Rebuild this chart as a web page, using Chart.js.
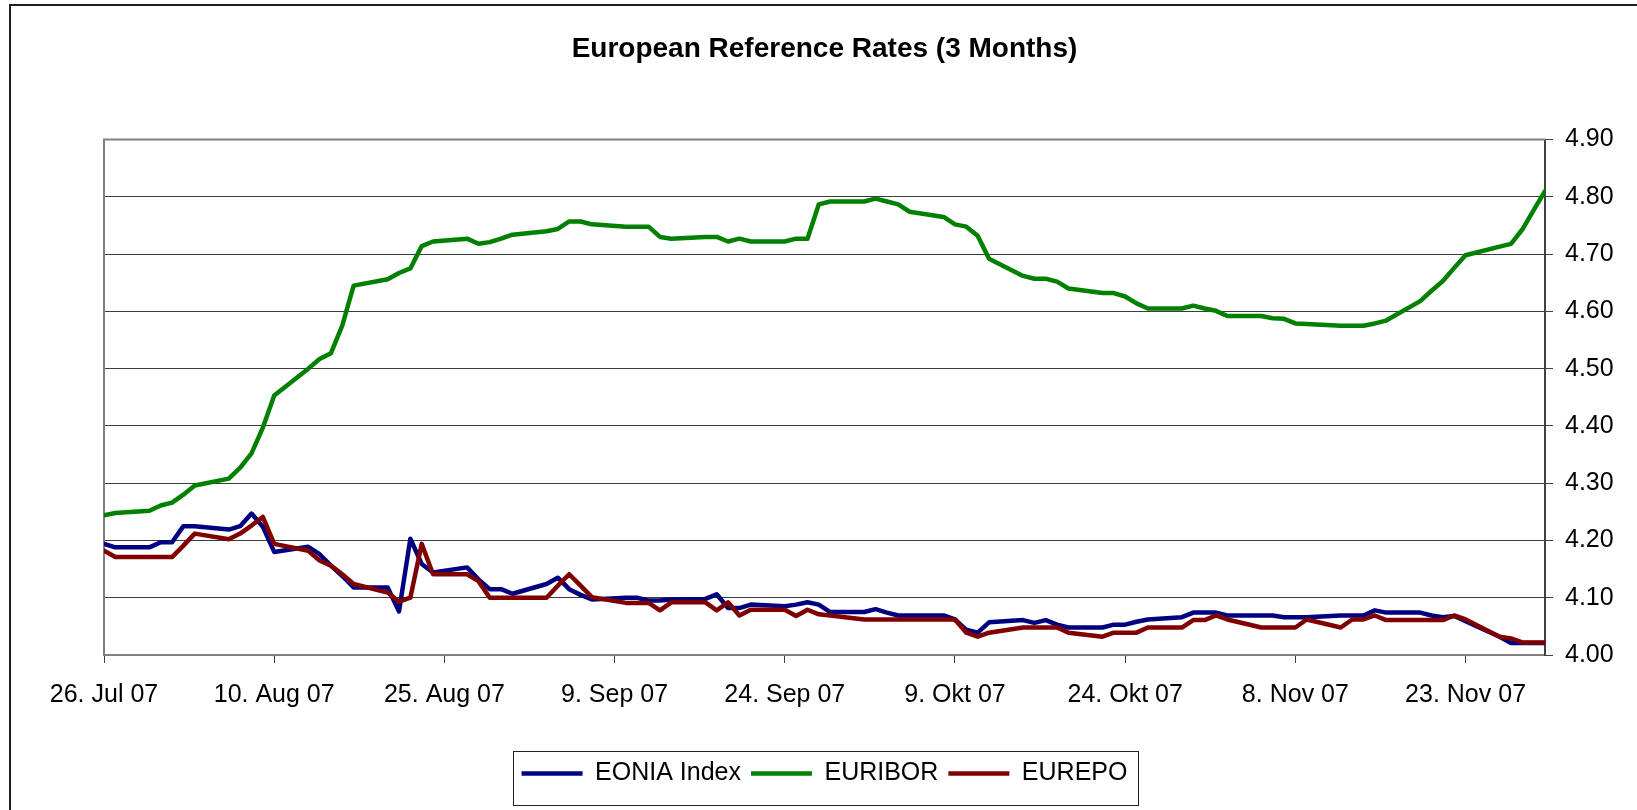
<!DOCTYPE html>
<html>
<head>
<meta charset="utf-8">
<title>European Reference Rates (3 Months)</title>
<script src="https://cdn.jsdelivr.net/npm/chart.js@4.4.1/dist/chart.umd.min.js"></script>
<style>
  html, body { margin: 0; padding: 0; background: #fff; }
  #contenedor { width: 1637px; height: 810px; position: relative; }
</style>
</head>
<body>
<div id="contenedor"><canvas id="plot1"></canvas></div>
<script>
// dias habiles, contados desde el 26. Jul 07
let dias = [0,1, 4,5,6,7,8, 11,12,13,14,15, 18,19,20,21,22, 25,26,27,28,29, 32,33,34,35,36,
            39,40,41,42,43, 46,47,48,49,50, 53,54,55,56,57, 60,61,62,63,64, 67,68,69,70,71,
            74,75,76,77,78, 81,82,83,84,85, 88,89,90,91,92, 95,96,97,98,99, 102,103,104,105,106,
            109,110,111,112,113, 116,117,118,119,120, 123,124,125,126,127];

let eonia = [4.194,4.188, 4.188,4.197,4.197,4.225,4.225, 4.219,4.225,4.247,4.224,4.180,
             4.189,4.176,4.156,4.138,4.118, 4.118,4.076,4.203,4.159,4.144, 4.153,4.132,4.115,4.115,4.107,
             4.124,4.135,4.115,4.105,4.097, 4.100,4.100,4.095,4.095,4.097, 4.098,4.106,4.082,4.082,4.088,
             4.085,4.088,4.092,4.088,4.075, 4.075,4.080,4.074,4.069,4.069, 4.069,4.062,4.044,4.039,4.057,
             4.061,4.056,4.061,4.053,4.048, 4.048,4.053,4.053,4.058,4.062, 4.066,4.074,4.074,4.074,4.069,
             4.069,4.069,4.066,4.066,4.066, 4.069,4.069,4.069,4.078,4.074, 4.074,4.069,4.066,4.068,4.059,
             4.032,4.021,4.021,4.021,4.021];

let euribor = [4.244,4.248, 4.252,4.261,4.266,4.280,4.296, 4.308,4.327,4.352,4.397,4.453,
               4.500,4.517,4.527,4.575,4.645, 4.656,4.667,4.675,4.714,4.722, 4.727,4.718,4.721,4.727,4.734,
               4.740,4.744,4.757,4.757,4.752, 4.748,4.748,4.748,4.730,4.727, 4.730,4.730,4.722,4.727,4.722,
               4.722,4.727,4.727,4.787,4.792, 4.792,4.797,4.792,4.787,4.774, 4.765,4.752,4.748,4.732,4.692,
               4.662,4.657,4.657,4.652,4.640, 4.632,4.632,4.626,4.614,4.605, 4.605,4.610,4.605,4.601,4.592,
               4.592,4.588,4.587,4.579,4.578, 4.575,4.575,4.575,4.579,4.584, 4.618,4.636,4.653,4.676,4.698,
               4.713,4.718,4.743,4.777,4.810];

let eurepo = [4.182,4.171, 4.171,4.171,4.171,4.191,4.212, 4.202,4.212,4.226,4.241,4.194,
              4.182,4.165,4.156,4.141,4.124, 4.109,4.093,4.100,4.194,4.141, 4.141,4.129,4.100,4.100,4.100,
              4.100,4.121,4.141,4.121,4.101, 4.091,4.091,4.091,4.078,4.092, 4.092,4.078,4.092,4.069,4.079,
              4.079,4.068,4.079,4.071,4.069, 4.062,4.062,4.062,4.062,4.062, 4.062,4.062,4.039,4.032,4.039,
              4.048,4.048,4.048,4.048,4.039, 4.032,4.039,4.039,4.039,4.048, 4.048,4.061,4.061,4.069,4.062,
              4.048,4.048,4.048,4.048,4.062, 4.048,4.062,4.062,4.069,4.061, 4.061,4.061,4.061,4.069,4.062,
              4.032,4.029,4.022,4.022,4.022];

let etiquetasFecha = ["26. Jul 07", "10. Aug 07", "25. Aug 07", "9. Sep 07", "24. Sep 07",
                      "9. Okt 07", "24. Okt 07", "8. Nov 07", "23. Nov 07"];

let armarPuntos = (valores) => valores.map((v, i) => ({x: dias[i], y: v}));

Chart.defaults.font.family = "'Liberation Sans', Arial, sans-serif";
Chart.defaults.color = '#000';

let marcoPlugin = {
    id: 'marco',
    beforeDraw: (chart) => {
        let ctx = chart.ctx;
        ctx.save();
        ctx.fillStyle = '#fff';
        ctx.fillRect(0, 0, chart.width, chart.height);
        ctx.strokeStyle = '#1e1e1e';
        ctx.lineWidth = 2;
        ctx.beginPath();
        ctx.moveTo(10, chart.height);
        ctx.lineTo(10, 5);
        ctx.lineTo(chart.width, 5);
        ctx.stroke();
        ctx.restore();
    },
    beforeDatasetsDraw: (chart) => {
        let ctx = chart.ctx;
        let a = chart.chartArea;
        ctx.save();
        ctx.strokeStyle = '#808080';
        ctx.lineWidth = 2;
        ctx.beginPath();
        ctx.moveTo(a.left, a.bottom);
        ctx.lineTo(a.left, a.top);
        ctx.lineTo(a.right, a.top);
        ctx.stroke();
        ctx.restore();
    },
    afterDraw: (chart) => {
        let ctx = chart.ctx;
        let cajas = chart.legend.legendHitBoxes;
        let izq = Math.min(...cajas.map(c => c.left));
        let der = Math.max(...cajas.map(c => c.left + c.width));
        let centro = cajas[0].top + cajas[0].height / 2;
        ctx.save();
        ctx.strokeStyle = '#222';
        ctx.lineWidth = 1;
        ctx.strokeRect(Math.round(izq - 9) + 0.5, Math.round(centro - 23) + 0.5,
                       Math.round(der - izq + 19), 54);
        ctx.restore();
    }
};

let plotRef = document.getElementById("plot1");
let config1 = {
    type: 'line',
    data: {
        datasets: [
            { label: 'EONIA Index', data: armarPuntos(eonia), borderColor: '#000080', backgroundColor: '#000080', borderWidth: 4.5, order: 2 },
            { label: 'EURIBOR', data: armarPuntos(euribor), borderColor: '#008000', backgroundColor: '#008000', borderWidth: 4.5, order: 1 },
            { label: 'EUREPO', data: armarPuntos(eurepo), borderColor: '#800000', backgroundColor: '#800000', borderWidth: 4.5, order: 0 }
        ]
    },
    options: {
        responsive: true,
        maintainAspectRatio: false,
        animation: false,
        layout: { padding: { left: 104, right: 0, top: 0, bottom: 14 } },
        elements: {
            line: { borderWidth: 4.5, tension: 0, borderJoinStyle: 'round', borderCapStyle: 'round' },
            point: { radius: 0, hoverRadius: 0 }
        },
        plugins: {
            title: {
                display: true,
                text: 'European Reference Rates (3 Months)',
                fullSize: false,
                color: '#000',
                font: { size: 28, weight: 'bold' },
                padding: { top: 32, bottom: 74 }
            },
            legend: {
                position: 'bottom',
                fullSize: false,
                labels: {
                    usePointStyle: true,
                    pointStyle: 'line',
                    pointStyleWidth: 61,
                    boxHeight: 25,
                    padding: 10,
                    color: '#000',
                    font: { size: 25 },
                    sort: (a, b) => a.datasetIndex - b.datasetIndex
                }
            },
            tooltip: { enabled: false }
        },
        scales: {
            x: {
                type: 'linear',
                min: 0,
                max: 127,
                grid: { drawOnChartArea: false, drawTicks: true, tickLength: 8, tickColor: '#404040' },
                border: { color: '#808080', width: 2 },
                ticks: {
                    stepSize: 15,
                    includeBounds: false,
                    autoSkip: false,
                    maxRotation: 0,
                    padding: 17,
                    font: { size: 25 },
                    callback: (v) => etiquetasFecha[Math.round(v / 15)]
                },
                afterFit: (eje) => {
                    eje.height = 96;
                    eje.paddingLeft = 0;
                    eje.paddingRight = 0;
                }
            },
            y: {
                position: 'right',
                min: 4.0,
                max: 4.9,
                grid: {
                    color: (c) => c.tick && c.tick.value >= 4.899 ? '#808080' : '#3c3c3c',
                    lineWidth: 1,
                    drawTicks: true,
                    tickLength: 8,
                    tickColor: '#404040'
                },
                border: { color: '#404040', width: 2 },
                ticks: {
                    stepSize: 0.1,
                    padding: 12,
                    font: { size: 25 },
                    callback: (v) => v.toFixed(2)
                },
                afterFit: (eje) => {
                    eje.width = 92;
                    eje.paddingTop = 0;
                    eje.paddingBottom = 0;
                }
            }
        }
    },
    plugins: [marcoPlugin]
};

let chart1 = new Chart(plotRef, config1);
</script>
</body>
</html>
